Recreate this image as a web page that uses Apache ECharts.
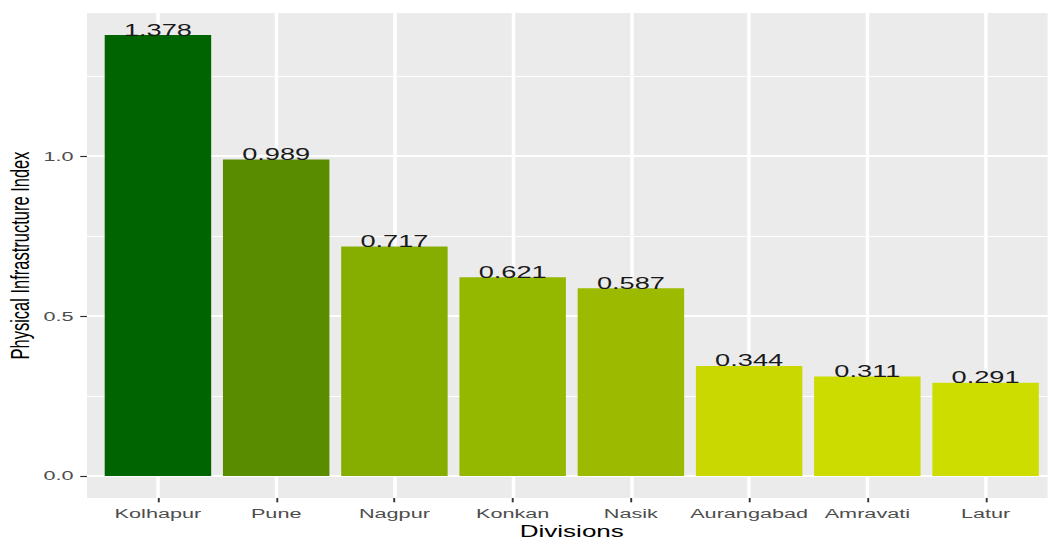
<!DOCTYPE html>
<html>
<head>
<meta charset="utf-8">
<title>Physical Infrastructure Index by Division</title>
<script src="https://cdn.jsdelivr.net/npm/echarts@6/dist/echarts.min.js"></script>
<style>
  html, body { margin: 0; padding: 0; background: #ffffff; overflow: hidden; }
  #wrap { width: 1048px; height: 541px; overflow: hidden; }
  /* chart is laid out on a narrower canvas and widened horizontally */
  #chart { height: 541px; transform-origin: 0 0; }
</style>
</head>
<body>
<div id="wrap"><div id="chart"></div></div>
<script>
// ---- data ----
const divisions = ['Kolhapur', 'Pune', 'Nagpur', 'Konkan', 'Nasik', 'Aurangabad', 'Amravati', 'Latur'];
const indexValues = [1.378, 0.989, 0.717, 0.621, 0.587, 0.344, 0.311, 0.291];
const barColors = ['#006400', '#5A8C00', '#86AE00', '#94B700', '#9CBB00', '#C8D800', '#CCDB00', '#CEDD00'];
const yTicks = [0, 0.5, 1.0];
const yMinorTicks = [0.25, 0.75, 1.25];

// ---- layout ----
const STRETCH = 1.58;
const OUT_W = 1048;
const W = OUT_W / STRETCH;
const el = document.getElementById('chart');
el.style.width = W + 'px';
el.style.transform = 'scaleX(' + STRETCH + ')';

const gridLeft = 87 / STRETCH;
const gridRight = W - 1057 / STRETCH;
const gridTop = 13;
const gridBottom = 43;
const xMin = -0.6, xMax = divisions.length - 1 + 0.6;
const unitPx = (W - gridLeft - gridRight) / (xMax - xMin);

const maxV = Math.max(...indexValues);
const pad = 0.05 * maxV;
const yMin = -pad, yMax = maxV + pad;

const FONT = '"Liberation Sans", Arial, Helvetica, sans-serif';
const catIdx = divisions.map((d, i) => i);

const chart = echarts.init(el, null, { renderer: 'svg' });
chart.setOption({
  animation: false,
  backgroundColor: '#ffffff',
  grid: {
    left: gridLeft, right: gridRight, top: gridTop, bottom: gridBottom,
    show: true, backgroundColor: '#EBEBEB', borderWidth: 0,
    outerBoundsMode: 'none'
  },
  xAxis: {
    type: 'value',
    position: 'bottom',
    min: xMin, max: xMax,
    name: 'Divisions',
    nameLocation: 'middle',
    nameMoveOverlap: false,
    nameGap: 25,
    nameTextStyle: { color: '#000000', fontSize: 16.5, fontFamily: FONT },
    axisLine: { show: false, onZero: false },
    axisTick: { show: true, customValues: catIdx, length: 4.3, lineStyle: { color: '#333333', width: 1.2 } },
    axisLabel: {
      customValues: catIdx,
      margin: 8,
      color: '#4D4D4D', fontSize: 13.7, fontFamily: FONT,
      formatter: v => divisions[Math.round(v)]
    },
    splitLine: { show: true, lineStyle: { color: '#ffffff', width: 2.2 } }
  },
  yAxis: [
    {
      type: 'value',
      position: 'left',
      min: yMin, max: yMax,
      name: 'Physical Infrastructure Index',
      nameLocation: 'middle',
      nameMoveOverlap: false,
      nameRotate: 90,
      nameGap: 34,
      nameTextStyle: { color: '#000000', fontSize: 16.5, fontFamily: FONT },
      axisLine: { show: false, onZero: false },
      axisTick: { show: true, customValues: yTicks, length: 4.3, lineStyle: { color: '#333333', width: 1.2 } },
      axisLabel: {
        customValues: yTicks,
        margin: 8.5,
        color: '#4D4D4D', fontSize: 13.7, fontFamily: FONT,
        formatter: v => v.toFixed(1)
      },
      splitLine: { show: true, lineStyle: { color: '#ffffff', width: 2.2 } }
    },
    {
      // minor horizontal grid
      type: 'value',
      min: yMin, max: yMax,
      position: 'left',
      axisLine: { show: false, onZero: false },
      axisTick: { show: false, customValues: yMinorTicks },
      axisLabel: { show: false, customValues: yMinorTicks },
      splitLine: { show: true, lineStyle: { color: '#ffffff', width: 1.1 } }
    }
  ],
  series: [{
    type: 'bar',
    xAxisIndex: 0,
    yAxisIndex: 0,
    barWidth: 0.9 * unitPx,
    data: indexValues.map((v, i) => ({
      value: [i, v],
      itemStyle: { color: barColors[i] }
    })),
    label: {
      show: true,
      position: 'top',
      distance: -3,
      color: '#1A1A1A',
      fontSize: 17.2,
      fontFamily: FONT,
      formatter: p => p.value[1].toFixed(3)
    }
  }]
});
</script>
</body>
</html>
